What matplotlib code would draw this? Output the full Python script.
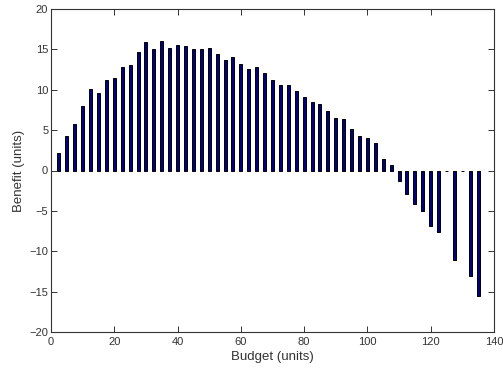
import numpy as np
import matplotlib.pyplot as plt

plt.rcParams['font.family'] = ['Liberation Sans', 'DejaVu Sans']

# budget levels (units) and benefit per level
budget = [2.5 * (i + 1) for i in range(54)]
benefit = [2.15, 4.26, 5.78, 7.97, 10.08, 9.62, 11.15, 11.48, 12.8, 13.1,
           14.7, 15.9, 15.1, 16.06, 15.2, 15.6, 15.36, 15.1, 15.0, 15.2,
           14.4, 13.7, 14.0, 13.25, 12.55, 12.76, 12.1, 11.2, 10.57, 10.65,
           9.87, 9.13, 8.47, 8.22, 7.39, 6.49, 6.36, 5.08, 4.26, 4.0,
           3.35, 1.45, 0.62, -1.36, -2.97, -4.17, -5.07, -6.85, -7.67, -0.05,
           -11.06, -0.05, -13.1, -15.6]

xticks = [0, 20, 40, 60, 80, 100, 120, 140]
yticks = [-20, -15, -10, -5, 0, 5, 10, 15, 20]

fig = plt.figure(figsize=(5.03, 3.72), dpi=100)
fig.patch.set_facecolor('white')
ax = fig.add_axes([51 / 503, 1 - 332 / 372, 443 / 503, 323 / 372])

ax.bar(budget, benefit, width=0.95, color='#000080', edgecolor='black', linewidth=0.7)

ax.set_xlim(0, 140)
ax.set_ylim(-20, 20)
ax.set_xticks(xticks)
ax.set_yticks(yticks)
ax.tick_params(direction='in', top=True, right=True, length=4, width=0.7,
               labelsize=8, colors='#333333')
ax.tick_params(axis='x', pad=3.5)
ax.tick_params(axis='y', pad=2)
for s in ax.spines.values():
    s.set_linewidth(0.8)
    s.set_color('#333333')

ax.set_xlabel('Budget (units)', fontsize=9.5, labelpad=3, color='#333333')
ax.set_ylabel('Benefit (units)', fontsize=9.5, labelpad=3, color='#333333')

fig.savefig('out.png', dpi=100)
